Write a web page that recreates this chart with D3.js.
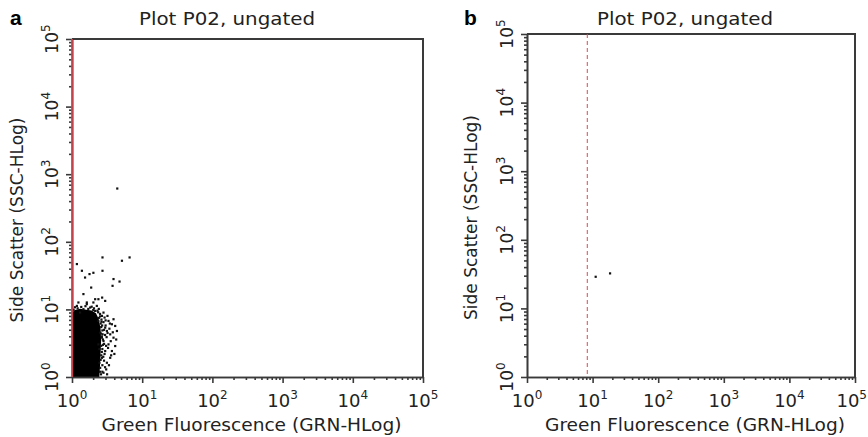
<!DOCTYPE html>
<html>
<head>
<meta charset="utf-8">
<script src="https://cdn.jsdelivr.net/npm/d3@7"></script>
<style>
  body { margin: 0; background: #fff; }
  svg { font-family: "DejaVu Sans", Verdana, sans-serif; }
</style>
</head>
<body>
<svg id="chart" width="868" height="437"></svg>
<script>
// chart text
const panelLabels = ["a", "b"];
const plotTitle = "Plot P02, ungated";
const xTitle = "Green Fluorescence (GRN-HLog)";
const yTitle = "Side Scatter (SSC-HLog)";

// log decades used for the major ticks (10^0 .. 10^5)
const decadeExps = [0, 1, 2, 3, 4, 5];
const minorMults = [2, 3, 4, 5, 6, 7, 8, 9];

// gate (red vertical marker) position on GRN axis
const gateA = 1.0;
const gateB = 8.3;

// panel a: outline of the saturated (solid black) event cloud, [GRN, SSC]
const coreA = [
    [1.0, 1.0], [1.0, 9.0], [1.1, 9.8], [1.3, 10.2], [1.6, 9.9], [1.9, 9.6],
    [2.2, 8.8], [2.4, 7.2], [2.55, 5.2], [2.6, 3.5], [2.55, 2.2], [2.5, 1.4],
    [2.45, 1.0]
];

// panel a: individual events outside the solid cloud, [GRN, SSC]
const eventsA = [
    [4.4, 616],
    [2.71, 58.9], [6.59, 58.9], [5.13, 52.6], [1.17, 47.0], [2.71, 37.4],
    [1.38, 37.4], [1.77, 33.4], [2.01, 34.9], [1.53, 29.7], [3.89, 28.2],
    [4.74, 25.9], [1.87, 21.1], [3.77, 22.4], [1.45, 16.9], [2.68, 15.0],
    [2.37, 14.2], [2.13, 14.2], [2.96, 13.4], [1.62, 12.7], [2.01, 12.7],
    [1.23, 12.7],
    [3.69, 6.05], [4.11, 5.71], [3.13, 4.81], [3.49, 4.29], [3.89, 3.83],
    [2.80, 3.42], [3.30, 3.05], [2.96, 2.43], [2.66, 1.93], [3.13, 1.63],
    [2.51, 1.37], [2.80, 1.16], [2.37, 6.78], [2.66, 8.04], [2.13, 9.53],
    [1.81, 10.7], [1.45, 10.1], [1.30, 9.0], [1.17, 11.3], [1.62, 12.0],
    [2.25, 11.3], [4.35, 4.81], [3.30, 6.78], [2.96, 5.39], [3.69, 2.43],
    [4.11, 2.88], [2.51, 4.54], [3.49, 1.93], [2.37, 3.05], [2.66, 3.83],
    [3.06, 1.30], [2.45, 1.63], [3.89, 7.18], [2.80, 9.0], [3.19, 8.04],
    [2.4, 7.5], [2.55, 6.2], [2.6, 5.5], [2.7, 4.9], [2.65, 4.0], [2.75, 3.6],
    [2.6, 2.9], [2.7, 2.6], [2.6, 2.1], [2.55, 1.8], [2.7, 1.5], [2.5, 1.2],
    [2.9, 2.2], [2.85, 3.1], [2.95, 4.2], [3.0, 5.8], [2.8, 6.5], [2.5, 8.6],
    [2.0, 9.8], [1.7, 10.2], [1.2, 10.4], [1.05, 9.9], [2.35, 9.1], [3.1, 3.9],
    [3.25, 2.7], [3.4, 5.2], [3.6, 2.1], [3.8, 4.6], [2.45, 2.6], [2.58, 4.4],
    [2.62, 7.1], [2.9, 7.6], [3.15, 1.1], [2.85, 1.75], [2.4, 10.2], [1.9, 11.0],
    [2.7, 1.2], [2.65, 2.35], [2.75, 3.0], [2.72, 4.3], [2.68, 5.8], [2.5, 7.9],
    [2.3, 9.6], [1.55, 11.2], [1.35, 10.9], [1.1, 10.8], [2.05, 10.4], [2.85, 5.0],
    [3.05, 2.9], [3.2, 4.5], [2.95, 1.4], [3.35, 1.5], [3.55, 3.4], [4.0, 2.2],
    [4.25, 3.6], [3.45, 6.2], [2.62, 6.6], [2.78, 2.0], [2.58, 1.1], [3.0, 6.9]
];

// panel b: the two events that remain
const eventsB = [[11.1, 29.0], [18.4, 32.5]];

const svg = d3.select("#chart");
const W = 868;
const textColor = "#222";
const frameColor = "#3a3a3a";

const panels = [
    { label: panelLabels[0], left: 72, right: 423, top: 39, bottom: 377,
      core: coreA, events: eventsA, gate: gateA, dashed: false,
      labelX: 10, titleX: 227, yTitleX: 23 },
    { label: panelLabels[1], left: 527, right: 855, top: 34, bottom: 377,
      core: null, events: eventsB, gate: gateB, dashed: true,
      labelX: 464, titleX: 685, yTitleX: 477 }
];

const majors = decadeExps.map(e => Math.pow(10, e));
const minors = [];
decadeExps.slice(0, -1).forEach(e => minorMults.forEach(m => minors.push(m * Math.pow(10, e))));

function powLabel(sel, exp) {
    sel.append("tspan").text("10");
    sel.append("tspan").attr("font-size", 12).attr("dy", -8).text(exp);
}

panels.forEach(p => {
    const x = d3.scaleLog().domain([1, 1e5]).range([p.left, p.right]);
    const y = d3.scaleLog().domain([1, 1e5]).range([p.bottom, p.top]);
    const g = svg.append("g");

    // events
    if (p.core) {
        g.append("path")
            .datum(p.core)
            .attr("d", d3.line().x(d => x(d[0])).y(d => y(d[1])).curve(d3.curveLinearClosed))
            .attr("fill", "#000");
    }
    g.selectAll("rect.ev")
        .data(p.events)
        .enter().append("rect")
        .attr("class", "ev")
        .attr("x", d => x(d[0]) - 1)
        .attr("y", d => y(d[1]) - 1)
        .attr("width", 2.2)
        .attr("height", 2.2)
        .attr("fill", "#111");

    // frame (top and right)
    g.append("path")
        .attr("d", `M${p.left},${p.top}H${p.right}V${p.bottom}`)
        .attr("fill", "none")
        .attr("stroke", frameColor)
        .attr("stroke-width", 2);

    // axes: major and minor ticks
    const xMaj = d3.axisBottom(x).tickValues(majors).tickSize(6).tickSizeOuter(0).tickFormat("");
    const xMin = d3.axisBottom(x).tickValues(minors).tickSize(3).tickSizeOuter(0).tickFormat("");
    const yMaj = d3.axisLeft(y).tickValues(majors).tickSize(6).tickSizeOuter(0).tickFormat("");
    const yMin = d3.axisLeft(y).tickValues(minors).tickSize(3).tickSizeOuter(0).tickFormat("");

    [xMaj, xMin].forEach(a => g.append("g").attr("transform", `translate(0,${p.bottom})`).call(a));
    [yMaj, yMin].forEach(a => g.append("g").attr("transform", `translate(${p.left},0)`).call(a));
    g.selectAll(".domain, .tick line").attr("stroke", frameColor).attr("stroke-width", 1.6);

    // gate line
    g.append("line")
        .attr("x1", x(p.gate)).attr("x2", x(p.gate))
        .attr("y1", p.top).attr("y2", p.bottom)
        .attr("stroke", "#e2474f")
        .attr("stroke-width", p.dashed ? 1 : 1.6)
        .attr("stroke-dasharray", p.dashed ? "4,3" : null);

    // tick labels
    decadeExps.forEach(e => {
        const v = Math.pow(10, e);
        const tx = g.append("text")
            .attr("x", x(v)).attr("y", 407)
            .attr("text-anchor", "middle")
            .attr("font-size", 18).attr("fill", textColor);
        powLabel(tx, e);
        // keep the last label inside the page
        const half = tx.node().getComputedTextLength() / 2;
        if (x(v) + half > W - 1) tx.attr("x", W - 1 - half);
        const ty = g.append("text")
            .attr("transform", `translate(${p.left - 14},${y(v)}) rotate(-90)`)
            .attr("text-anchor", "middle")
            .attr("font-size", 17).attr("fill", textColor);
        powLabel(ty, e);
    });

    // axis titles
    g.append("text")
        .attr("x", (p.left + p.right) / 2 + 4).attr("y", 431)
        .attr("text-anchor", "middle")
        .attr("font-size", 17.5).attr("fill", textColor)
        .attr("textLength", 300).attr("lengthAdjust", "spacingAndGlyphs")
        .text(xTitle);
    g.append("text")
        .attr("transform", `translate(${p.yTitleX},${(p.top + p.bottom) / 2 + 12}) rotate(-90)`)
        .attr("text-anchor", "middle")
        .attr("font-size", 17).attr("fill", textColor)
        .text(yTitle);

    // plot title and panel letter
    g.append("text")
        .attr("x", p.titleX).attr("y", 25)
        .attr("text-anchor", "middle")
        .attr("font-size", 17.5).attr("fill", textColor)
        .attr("textLength", 176).attr("lengthAdjust", "spacingAndGlyphs")
        .text(plotTitle);
    g.append("text")
        .attr("x", p.labelX).attr("y", 25)
        .attr("font-size", 21).attr("font-weight", "bold")
        .attr("font-family", "Liberation Sans, Arial, sans-serif")
        .attr("fill", "#000")
        .text(p.label);
});
</script>
</body>
</html>
